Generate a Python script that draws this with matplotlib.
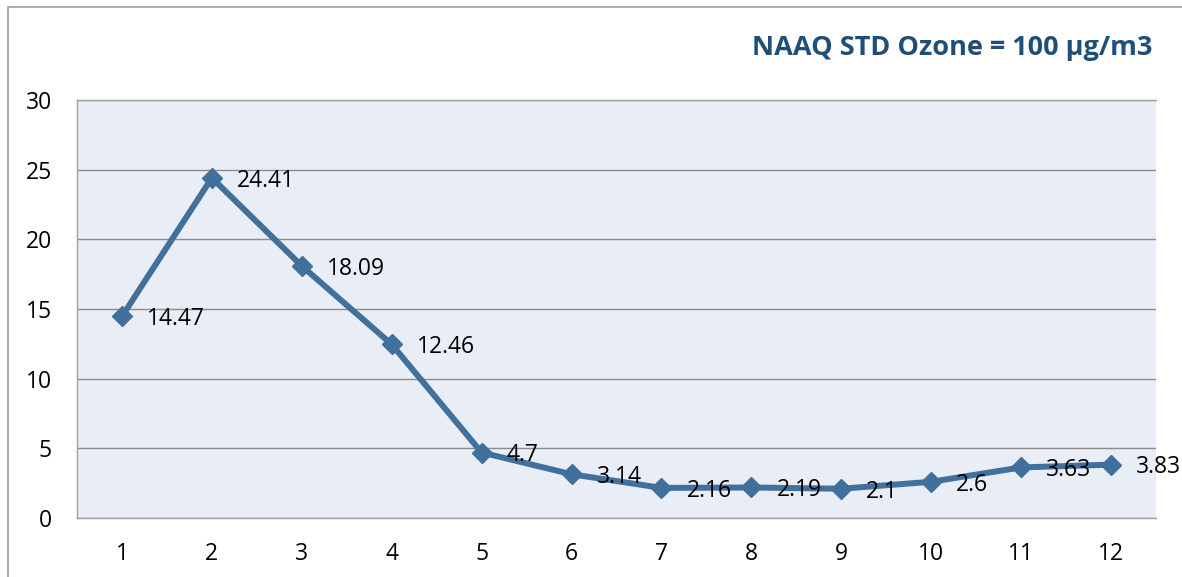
import matplotlib
matplotlib.use("Agg")
import matplotlib.pyplot as plt
from matplotlib.patches import Rectangle

categories = [str(i) for i in range(1, 13)]
values = [14.47, 24.41, 18.09, 12.46, 4.7, 3.14, 2.16, 2.19, 2.1, 2.6, 3.63, 3.83]
value_labels = ["14.47", "24.41", "18.09", "12.46", "4.7", "3.14", "2.16", "2.19", "2.1", "2.6", "3.63", "3.83"]
y_ticks = [0, 5, 10, 15, 20, 25, 30]
title = "NAAQ STD Ozone = 100 µg/m3"

plt.rcParams['font.family'] = ['Open Sans', 'DejaVu Sans']

W, H = 1182, 577
fig = plt.figure(figsize=(W / 100, H / 100), dpi=100)
fig.patch.set_facecolor('white')

# outer chart border
fig.add_artist(Rectangle((8 / W, -0.1), 1.2, (1 - 7 / H) + 0.1, transform=fig.transFigure,
                         fill=False, edgecolor='#A0A0A0', linewidth=1.2))

ax = fig.add_axes([77 / W, 1 - 518 / H, (1156 - 77) / W, (518 - 100) / H])
ax.set_facecolor('#E9EDF5')

x = list(range(len(categories)))
ax.plot(x, values, color='#41709C', linewidth=4.3, marker='D', markersize=10,
        markerfacecolor='#41709C', markeredgecolor='#41709C', zorder=3, solid_joinstyle='round')

for xi, v, lab in zip(x, values, value_labels):
    ax.annotate(lab, (xi, v), xytext=(18, -2), textcoords='offset points',
                ha='left', va='center', fontsize=16.5, color='black', zorder=4)

ax.set_xlim(-0.5, len(categories) - 0.5)
ax.set_ylim(0, 30)
ax.set_yticks(y_ticks)
ax.set_yticklabels([str(t) for t in y_ticks])
ax.set_xticks(x)
ax.set_xticklabels(categories)
ax.tick_params(axis='both', length=0, labelsize=16.5, colors='black')
ax.tick_params(axis='y', pad=18)
ax.tick_params(axis='x', pad=17)
ax.yaxis.grid(True, color='#8C8C8C', linewidth=1.0)
ax.set_axisbelow(True)

for side in ['left', 'top', 'bottom']:
    ax.spines[side].set_color('#A0A0A0')
    ax.spines[side].set_linewidth(1.0)
ax.spines['right'].set_visible(False)

fig.text(1152 / W, 1 - 48 / H, title, ha='right', va='center', fontsize=19.5,
         fontweight='bold', color='#1F4E79')

fig.savefig('out.png', dpi=100)
